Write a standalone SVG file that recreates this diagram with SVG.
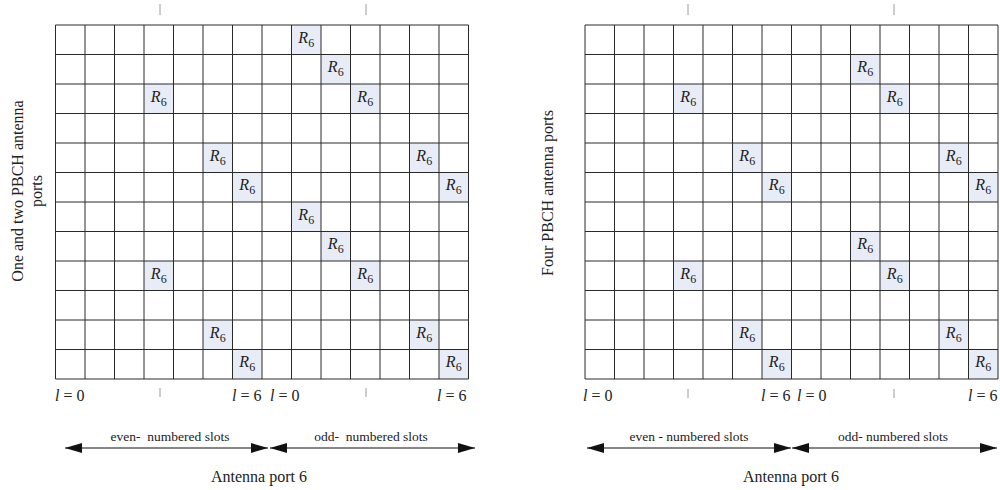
<svg xmlns="http://www.w3.org/2000/svg" width="1000" height="490" viewBox="0 0 1000 490">
<style>
text{font-family:"Liberation Serif","Times New Roman",serif;fill:#222}
.grid{fill:none;stroke:#2a2a2a;stroke-width:1}
.hl{fill:#e7ecf6}
.r{font-size:16px;text-anchor:middle}
.r .i{font-style:italic}
.lbl{font-size:16px}
.sm{font-size:13.5px;text-anchor:middle}
.tick{stroke:#9a9a9a;stroke-width:1}
.arr{stroke:#111;stroke-width:1.2;marker-start:url(#ah);marker-end:url(#ah)}
</style>
<defs>
<marker id="ah" markerUnits="userSpaceOnUse" markerWidth="17" markerHeight="10" refX="17" refY="5" orient="auto-start-reverse" viewBox="0 0 17 10">
<path d="M0,0 L17,5 L0,10 z" fill="#111"/>
</marker>
</defs>
<rect width="1000" height="490" fill="#fff"/>

<g id="grid-left">
<rect class="hl" x="291.5" y="25" width="29.5" height="29.5"/>
<rect class="hl" x="321" y="54.5" width="29.5" height="29.5"/>
<rect class="hl" x="144" y="84" width="29.5" height="29.5"/>
<rect class="hl" x="350.5" y="84" width="29.5" height="29.5"/>
<rect class="hl" x="203" y="143" width="29.5" height="29.5"/>
<rect class="hl" x="409.5" y="143" width="29.5" height="29.5"/>
<rect class="hl" x="232.5" y="172.5" width="29.5" height="29.5"/>
<rect class="hl" x="439" y="172.5" width="29.5" height="29.5"/>
<rect class="hl" x="291.5" y="202" width="29.5" height="29.5"/>
<rect class="hl" x="321" y="231.5" width="29.5" height="29.5"/>
<rect class="hl" x="144" y="261" width="29.5" height="29.5"/>
<rect class="hl" x="350.5" y="261" width="29.5" height="29.5"/>
<rect class="hl" x="203" y="320" width="29.5" height="29.5"/>
<rect class="hl" x="409.5" y="320" width="29.5" height="29.5"/>
<rect class="hl" x="232.5" y="349.5" width="29.5" height="29.5"/>
<rect class="hl" x="439" y="349.5" width="29.5" height="29.5"/>
<path class="grid" d="M55.5,25V379M85,25V379M114.5,25V379M144,25V379M173.5,25V379M203,25V379M232.5,25V379M262,25V379M291.5,25V379M321,25V379M350.5,25V379M380,25V379M409.5,25V379M439,25V379M468.5,25V379M55.5,25H468.5M55.5,54.5H468.5M55.5,84H468.5M55.5,113.5H468.5M55.5,143H468.5M55.5,172.5H468.5M55.5,202H468.5M55.5,231.5H468.5M55.5,261H468.5M55.5,290.5H468.5M55.5,320H468.5M55.5,349.5H468.5M55.5,379H468.5"/>
<text class="r" x="306.25" y="42.75"><tspan class="i">R</tspan><tspan font-size="12" dy="4">6</tspan></text>
<text class="r" x="335.75" y="72.25"><tspan class="i">R</tspan><tspan font-size="12" dy="4">6</tspan></text>
<text class="r" x="158.75" y="101.75"><tspan class="i">R</tspan><tspan font-size="12" dy="4">6</tspan></text>
<text class="r" x="365.25" y="101.75"><tspan class="i">R</tspan><tspan font-size="12" dy="4">6</tspan></text>
<text class="r" x="217.75" y="160.75"><tspan class="i">R</tspan><tspan font-size="12" dy="4">6</tspan></text>
<text class="r" x="424.25" y="160.75"><tspan class="i">R</tspan><tspan font-size="12" dy="4">6</tspan></text>
<text class="r" x="247.25" y="190.25"><tspan class="i">R</tspan><tspan font-size="12" dy="4">6</tspan></text>
<text class="r" x="453.75" y="190.25"><tspan class="i">R</tspan><tspan font-size="12" dy="4">6</tspan></text>
<text class="r" x="306.25" y="219.75"><tspan class="i">R</tspan><tspan font-size="12" dy="4">6</tspan></text>
<text class="r" x="335.75" y="249.25"><tspan class="i">R</tspan><tspan font-size="12" dy="4">6</tspan></text>
<text class="r" x="158.75" y="278.75"><tspan class="i">R</tspan><tspan font-size="12" dy="4">6</tspan></text>
<text class="r" x="365.25" y="278.75"><tspan class="i">R</tspan><tspan font-size="12" dy="4">6</tspan></text>
<text class="r" x="217.75" y="337.75"><tspan class="i">R</tspan><tspan font-size="12" dy="4">6</tspan></text>
<text class="r" x="424.25" y="337.75"><tspan class="i">R</tspan><tspan font-size="12" dy="4">6</tspan></text>
<text class="r" x="247.25" y="367.25"><tspan class="i">R</tspan><tspan font-size="12" dy="4">6</tspan></text>
<text class="r" x="453.75" y="367.25"><tspan class="i">R</tspan><tspan font-size="12" dy="4">6</tspan></text>
</g>

<g id="grid-right">
<rect class="hl" x="850.5" y="54.5" width="29.5" height="29.5"/>
<rect class="hl" x="673.5" y="84" width="29.5" height="29.5"/>
<rect class="hl" x="880" y="84" width="29.5" height="29.5"/>
<rect class="hl" x="732.5" y="143" width="29.5" height="29.5"/>
<rect class="hl" x="939" y="143" width="29.5" height="29.5"/>
<rect class="hl" x="762" y="172.5" width="29.5" height="29.5"/>
<rect class="hl" x="968.5" y="172.5" width="29.5" height="29.5"/>
<rect class="hl" x="850.5" y="231.5" width="29.5" height="29.5"/>
<rect class="hl" x="673.5" y="261" width="29.5" height="29.5"/>
<rect class="hl" x="880" y="261" width="29.5" height="29.5"/>
<rect class="hl" x="732.5" y="320" width="29.5" height="29.5"/>
<rect class="hl" x="939" y="320" width="29.5" height="29.5"/>
<rect class="hl" x="762" y="349.5" width="29.5" height="29.5"/>
<rect class="hl" x="968.5" y="349.5" width="29.5" height="29.5"/>
<path class="grid" d="M585,25V379M614.5,25V379M644,25V379M673.5,25V379M703,25V379M732.5,25V379M762,25V379M791.5,25V379M821,25V379M850.5,25V379M880,25V379M909.5,25V379M939,25V379M968.5,25V379M998,25V379M585,25H998M585,54.5H998M585,84H998M585,113.5H998M585,143H998M585,172.5H998M585,202H998M585,231.5H998M585,261H998M585,290.5H998M585,320H998M585,349.5H998M585,379H998"/>
<text class="r" x="865.25" y="72.25"><tspan class="i">R</tspan><tspan font-size="12" dy="4">6</tspan></text>
<text class="r" x="688.25" y="101.75"><tspan class="i">R</tspan><tspan font-size="12" dy="4">6</tspan></text>
<text class="r" x="894.75" y="101.75"><tspan class="i">R</tspan><tspan font-size="12" dy="4">6</tspan></text>
<text class="r" x="747.25" y="160.75"><tspan class="i">R</tspan><tspan font-size="12" dy="4">6</tspan></text>
<text class="r" x="953.75" y="160.75"><tspan class="i">R</tspan><tspan font-size="12" dy="4">6</tspan></text>
<text class="r" x="776.75" y="190.25"><tspan class="i">R</tspan><tspan font-size="12" dy="4">6</tspan></text>
<text class="r" x="983.25" y="190.25"><tspan class="i">R</tspan><tspan font-size="12" dy="4">6</tspan></text>
<text class="r" x="865.25" y="249.25"><tspan class="i">R</tspan><tspan font-size="12" dy="4">6</tspan></text>
<text class="r" x="688.25" y="278.75"><tspan class="i">R</tspan><tspan font-size="12" dy="4">6</tspan></text>
<text class="r" x="894.75" y="278.75"><tspan class="i">R</tspan><tspan font-size="12" dy="4">6</tspan></text>
<text class="r" x="747.25" y="337.75"><tspan class="i">R</tspan><tspan font-size="12" dy="4">6</tspan></text>
<text class="r" x="953.75" y="337.75"><tspan class="i">R</tspan><tspan font-size="12" dy="4">6</tspan></text>
<text class="r" x="776.75" y="367.25"><tspan class="i">R</tspan><tspan font-size="12" dy="4">6</tspan></text>
<text class="r" x="983.25" y="367.25"><tspan class="i">R</tspan><tspan font-size="12" dy="4">6</tspan></text>
</g>

<g id="ticks">
<path class="tick" d="M160,4V15M366,4V15M688,4V15M894,4V15M160,388V397M366,388V397M688,389V398M894,389V398"/>
</g>

<g id="axis-labels" class="lbl">
<text x="55" y="401"><tspan font-style="italic">l</tspan> = 0</text>
<text x="232" y="401"><tspan font-style="italic">l</tspan> = 6</text>
<text x="270" y="401"><tspan font-style="italic">l</tspan> = 0</text>
<text x="437" y="401"><tspan font-style="italic">l</tspan> = 6</text>
<text x="583" y="401"><tspan font-style="italic">l</tspan> = 0</text>
<text x="761" y="401"><tspan font-style="italic">l</tspan> = 6</text>
<text x="797" y="401"><tspan font-style="italic">l</tspan> = 0</text>
<text x="968" y="401"><tspan font-style="italic">l</tspan> = 6</text>
</g>

<g id="side-labels" class="lbl" text-anchor="middle">
<text transform="translate(23,191) rotate(-90)">One and two PBCH antenna</text>
<text transform="translate(42,191) rotate(-90)">ports</text>
<text transform="translate(553,193) rotate(-90)">Four PBCH antenna ports</text>
</g>

<g id="connectors">
<line class="arr" x1="65" y1="448" x2="268" y2="448"/>
<line class="arr" x1="270" y1="448" x2="475" y2="448"/>
<line class="arr" x1="587" y1="448" x2="791" y2="448"/>
<line class="arr" x1="792" y1="448" x2="997" y2="448"/>
</g>

<g id="slot-labels">
<text class="sm" x="170" y="441" xml:space="preserve">even-  numbered slots</text>
<text class="sm" x="371" y="441" xml:space="preserve">odd-  numbered slots</text>
<text class="sm" x="689" y="441">even - numbered slots</text>
<text class="sm" x="893" y="441">odd- numbered slots</text>
<text class="lbl" x="259" y="482" text-anchor="middle">Antenna port 6</text>
<text class="lbl" x="791" y="482" text-anchor="middle">Antenna port 6</text>
</g>
</svg>
